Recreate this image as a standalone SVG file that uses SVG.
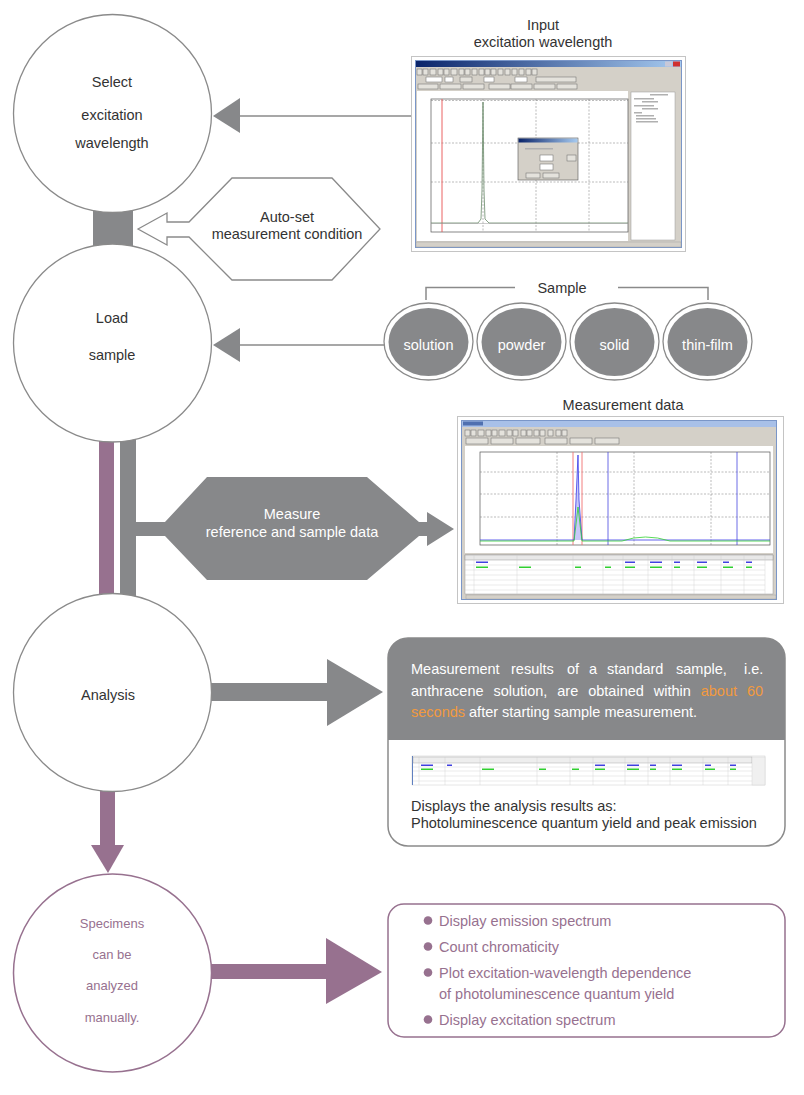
<svg xmlns="http://www.w3.org/2000/svg" width="804" height="1095" viewBox="0 0 804 1095">
<defs>
<style>
.t{font-family:"Liberation Sans",Arial,Helvetica,sans-serif;font-size:14.5px;fill:#333;text-anchor:middle}
.tl{font-family:"Liberation Sans",Arial,Helvetica,sans-serif;font-size:14.5px;fill:#333}
.w{fill:#fff}
.pu{fill:#97718f}
.or{fill:#f29a3e}
.nc{fill:#fff;stroke:#8a8a8a;stroke-width:1.3}
.pc{fill:#fff;stroke:#97718f;stroke-width:1.5}
.g{fill:#87888a}
.p{fill:#97718f}
.ln{stroke:#8a8a8a;stroke-width:1.5;fill:none}
.win{fill:#d4d0c8;stroke:#7a96c8;stroke-width:1}
.frame{fill:#fff;stroke:#c4c4c4;stroke-width:1}
.btn{fill:#e4e2dc;stroke:#666;stroke-width:0.5}
.grid{stroke:#777;stroke-width:0.5;stroke-dasharray:2 1.5;fill:none}
.fx{fill:#b0b0b0}
</style>
<linearGradient id="tb" x1="0" x2="1" y1="0" y2="0">
<stop offset="0" stop-color="#0a246a"/><stop offset="1" stop-color="#a6caf0"/>
</linearGradient>
</defs>
<rect width="804" height="1095" fill="#fff"/>

<g id="connectors">
<rect x="93" y="198" width="40" height="52" class="g"/>
<rect x="99" y="430" width="15" height="172" class="p"/>
<rect x="120" y="430" width="16" height="172" class="g"/>
<rect x="100" y="780" width="15" height="66" class="p"/>
<polygon points="91,845 124,845 108,873" class="p"/>
<line x1="238" y1="116" x2="411" y2="116" class="ln"/>
<polygon points="213,116 240,98 240,133" class="g"/>
<line x1="238" y1="345" x2="384" y2="345" class="ln"/>
<polygon points="213,345 240,328 240,362" class="g"/>
<polyline points="426,300 426,287.5 515,287.5" class="ln"/>
<polyline points="618,287.5 708,287.5 708,300" class="ln"/>
<rect x="205" y="683" width="123" height="18" class="g"/>
<polygon points="327,659 383,692 327,726" class="g"/>
<rect x="205" y="964" width="122" height="15" class="p"/>
<polygon points="326,938 382,972 326,1004" class="p"/>
</g>

<g id="n-select">
<circle cx="112.5" cy="113.5" r="99" class="nc"/>
<text class="t" x="112" y="87">Select</text>
<text class="t" x="112" y="120">excitation</text>
<text class="t" x="112" y="148">wavelength</text>
</g>

<g id="n-autoset">
<polygon points="138,229 167,213 167,222 189,222 232,178 332,178 380,229 332,280 232,280 189,237 167,237 167,245" fill="#fff" stroke="#8a8a8a" stroke-width="1.3"/>
<text class="t" x="287" y="222">Auto-set</text>
<text class="t" x="287" y="239">measurement condition</text>
</g>

<g id="n-input">
<text class="t" x="543" y="30">Input</text>
<text class="t" x="543" y="47">excitation wavelength</text>
<rect x="411.5" y="56.5" width="274" height="195" class="frame"/>
<rect x="415.5" y="60.5" width="266" height="187" class="win"/>
<rect x="416" y="61" width="265" height="6" fill="url(#tb)"/>
<rect x="673" y="61.5" width="7" height="5" fill="#d03030"/>
<rect x="665" y="61.5" width="7" height="5" fill="#c8c8d8"/>
<g class="btn">
<rect x="417" y="69" width="5" height="6"/><rect x="423" y="69" width="5" height="6"/><rect x="430" y="69" width="6" height="6"/><rect x="438" y="69" width="5" height="6"/><rect x="444" y="69" width="5" height="6"/><rect x="451" y="69" width="6" height="6"/><rect x="459" y="69" width="5" height="6"/><rect x="465" y="69" width="5" height="6"/><rect x="472" y="69" width="5" height="6"/><rect x="479" y="69" width="5" height="6"/><rect x="485" y="69" width="5" height="6"/><rect x="491" y="69" width="5" height="6"/><rect x="498" y="69" width="5" height="6"/><rect x="505" y="69" width="5" height="6"/><rect x="512" y="69" width="5" height="6"/><rect x="519" y="69" width="5" height="6"/><rect x="526" y="69" width="5" height="6"/><rect x="532" y="69" width="5" height="6"/>
<rect x="426" y="77" width="16" height="5" fill="#fff"/><rect x="445" y="77" width="8" height="5" fill="#fff"/><rect x="460" y="77" width="12" height="5"/><rect x="484" y="77" width="10" height="5" fill="#fff"/><rect x="515" y="77" width="12" height="5" fill="#fff"/><rect x="536" y="77" width="40" height="5"/>
<rect x="418" y="84" width="20" height="5"/><rect x="440" y="84" width="21" height="5"/><rect x="463" y="84" width="21" height="5"/><rect x="489" y="84" width="21" height="5"/><rect x="511" y="84" width="21" height="5"/><rect x="534" y="84" width="21" height="5"/><rect x="557" y="84" width="20" height="5"/>
</g>
<rect x="417" y="91" width="211" height="150" fill="#fff"/>
<rect x="431" y="99" width="197" height="133" fill="none" stroke="#555" stroke-width="0.7"/>
<path d="M431,100.5H628M431,143H628M431,182H628M483,99V232M536,99V232M589,99V232" class="grid"/>
<line x1="442" y1="99" x2="442" y2="232" stroke="#e85050" stroke-width="0.9"/>
<path d="M431,223H478L481,219L482,190L483,102L484,190L485,219L489,223H628" fill="none" stroke="#6a8a6a" stroke-width="0.8"/>
<line x1="431" y1="223.5" x2="628" y2="223.5" stroke="#999" stroke-width="0.5"/>
<rect x="631" y="92" width="44" height="148" fill="#fff" stroke="#999" stroke-width="0.5"/>
<g class="fx"><rect x="650" y="94" width="18" height="1.5"/><rect x="634" y="98" width="20" height="1.5"/><rect x="642" y="101" width="16" height="1.5"/><rect x="634" y="105" width="20" height="1.5"/><rect x="642" y="108" width="16" height="1.5"/><rect x="634" y="112" width="8" height="1.5"/><rect x="636" y="115" width="18" height="1.5"/><rect x="636" y="118" width="20" height="1.5"/><rect x="636" y="121" width="22" height="1.5"/></g>
<rect x="518" y="138" width="60" height="42" fill="#d4d0c8" stroke="#555" stroke-width="0.6"/>
<rect x="518.5" y="138.5" width="59" height="4" fill="url(#tb)"/>
<rect x="525" y="148" width="28" height="1.5" class="fx"/>
<rect x="540" y="155" width="13" height="6" fill="#fff" stroke="#666" stroke-width="0.5"/>
<rect x="567" y="155" width="9" height="6" class="btn"/>
<rect x="540" y="164" width="13" height="6" fill="#fff" stroke="#666" stroke-width="0.5"/>
<rect x="526" y="173" width="14" height="5" class="btn"/><rect x="543" y="173" width="16" height="5" class="btn"/>
<rect x="416" y="242" width="265" height="5" fill="#d4d0c8" stroke="#999" stroke-width="0.4"/>
</g>

<g id="n-load">
<circle cx="112.5" cy="343" r="99" class="nc"/>
<text class="t" x="112" y="323">Load</text>
<text class="t" x="112" y="360">sample</text>
</g>

<g id="n-sample">
<text class="t" x="562" y="293">Sample</text>
</g>
<g id="s-solution">
<ellipse cx="428.5" cy="341.5" rx="44.5" ry="38.5" class="nc"/>
<ellipse cx="428.5" cy="342" rx="40" ry="34" class="g"/>
<text class="t w" x="428.5" y="350">solution</text>
</g>
<g id="s-powder">
<ellipse cx="521.5" cy="341.5" rx="44.5" ry="38.5" class="nc"/>
<ellipse cx="521.5" cy="342" rx="40" ry="34" class="g"/>
<text class="t w" x="521.5" y="350">powder</text>
</g>
<g id="s-solid">
<ellipse cx="614.5" cy="341.5" rx="44.5" ry="38.5" class="nc"/>
<ellipse cx="614.5" cy="342" rx="40" ry="34" class="g"/>
<text class="t w" x="614.5" y="350">solid</text>
</g>
<g id="s-thinfilm">
<ellipse cx="707.5" cy="341.5" rx="44.5" ry="38.5" class="nc"/>
<ellipse cx="707.5" cy="342" rx="40" ry="34" class="g"/>
<text class="t w" x="707.5" y="350">thin-film</text>
</g>

<g id="n-measure">
<polygon points="135,522 165,522 207,477 367,477 419,522 427,522 427,512 454,529 427,546 427,536 419,536 367,580 207,580 165,536 135,536" class="g"/>
<text class="t w" x="292" y="519">Measure</text>
<text class="t w" x="292" y="537">reference and sample data</text>
</g>

<g id="n-data">
<text class="t" x="623" y="410">Measurement data</text>
<rect x="457.5" y="416.5" width="326" height="187" class="frame"/>
<rect x="461.5" y="420.5" width="315" height="179" class="win"/>
<rect x="462" y="421" width="314" height="6" fill="#a8c0e8"/>
<rect x="463" y="421.5" width="20" height="4" fill="#5070b0"/>
<g class="btn">
<rect x="465" y="430" width="5" height="6"/><rect x="471" y="430" width="5" height="6"/><rect x="478" y="430" width="6" height="6"/><rect x="486" y="430" width="5" height="6"/><rect x="492" y="430" width="5" height="6"/><rect x="499" y="430" width="6" height="6"/><rect x="507" y="430" width="5" height="6"/><rect x="513" y="430" width="5" height="6"/><rect x="521" y="430" width="5" height="6"/><rect x="527" y="430" width="5" height="6"/><rect x="534" y="430" width="5" height="6"/><rect x="540" y="430" width="5" height="6"/><rect x="548" y="430" width="5" height="6"/><rect x="556" y="430" width="5" height="6"/><rect x="562" y="430" width="5" height="6"/>
<rect x="466" y="438" width="22" height="6"/><rect x="491" y="438" width="22" height="6"/><rect x="516" y="438" width="24" height="6"/><rect x="545" y="438" width="22" height="6"/><rect x="570" y="438" width="22" height="6"/><rect x="595" y="438" width="24" height="6"/>
</g>
<rect x="465" y="446" width="308" height="107" fill="#fff"/>
<rect x="480" y="452" width="290" height="93" fill="none" stroke="#555" stroke-width="0.7"/>
<path d="M480,472H770M480,494H770M480,517H770M557,452V545M634,452V545M711,452V545" class="grid"/>
<line x1="573" y1="452" x2="573" y2="545" stroke="#f07070" stroke-width="0.9"/>
<line x1="582" y1="452" x2="582" y2="545" stroke="#f07070" stroke-width="0.9"/>
<line x1="608" y1="452" x2="608" y2="545" stroke="#4848e0" stroke-width="0.8"/>
<line x1="737" y1="452" x2="737" y2="545" stroke="#4848e0" stroke-width="0.8"/>
<path d="M480,540H574L576,500L578,455L579,500L582,540H770" fill="#c8c8f8" stroke="#3a3ae8" stroke-width="0.8"/>
<path d="M480,541H574L576.5,520L578,507L579.5,520L582,541H622Q645,533 670,541H770" fill="none" stroke="#30d030" stroke-width="0.8"/>
<rect x="465" y="555" width="308" height="39" fill="#fff" stroke="#888" stroke-width="0.4"/>
<rect x="465" y="555" width="308" height="5" fill="#e8e8e8" stroke="#888" stroke-width="0.4"/>
<path d="M474,555V594M517,555V594M573,555V594M603,555V594M623,555V594M648,555V594M672,555V594M694,555V594M721,555V594M744,555V594M765,555V594M465,565H765M465,570H765M465,575H765M465,580H765M465,585H765M465,590H765" stroke="#ccc" stroke-width="0.4" fill="none"/>
<g fill="#4040e0"><rect x="476" y="561.5" width="12" height="1.5"/><rect x="625" y="561.5" width="10" height="1.5"/><rect x="650" y="561.5" width="12" height="1.5"/><rect x="674" y="561.5" width="6" height="1.5"/><rect x="697" y="561.5" width="10" height="1.5"/><rect x="723" y="561.5" width="6" height="1.5"/><rect x="746" y="561.5" width="6" height="1.5"/></g>
<g fill="#30d030"><rect x="476" y="566.5" width="12" height="1.5"/><rect x="519" y="566.5" width="12" height="1.5"/><rect x="575" y="566.5" width="6" height="1.5"/><rect x="605" y="566.5" width="6" height="1.5"/><rect x="625" y="566.5" width="10" height="1.5"/><rect x="650" y="566.5" width="12" height="1.5"/><rect x="674" y="566.5" width="6" height="1.5"/><rect x="697" y="566.5" width="10" height="1.5"/><rect x="723" y="566.5" width="10" height="1.5"/><rect x="746" y="566.5" width="6" height="1.5"/></g>
<rect x="466" y="595" width="310" height="4" fill="#d4d0c8" stroke="#999" stroke-width="0.4"/>
</g>

<g id="n-analysis">
<circle cx="112.5" cy="692.5" r="99" class="nc"/>
<text class="t" x="108" y="700">Analysis</text>
</g>

<g id="n-results">
<rect x="388" y="638" width="397" height="208" rx="20" fill="#fff" stroke="#8a8a8a" stroke-width="1.5"/>
<path d="M388,740V658A20,20 0 0 1 408,638H765A20,20 0 0 1 785,658V740Z" class="g"/>
<g class="tl w">
<text y="674"><tspan x="411">Measurement</tspan><tspan x="511">results</tspan><tspan x="567">of</tspan><tspan x="589">a</tspan><tspan x="607">standard</tspan><tspan x="676">sample,</tspan><tspan x="744">i.e.</tspan></text>
<text y="696"><tspan x="411">anthracene</tspan><tspan x="493.4">solution,</tspan><tspan x="557.3">are</tspan><tspan x="588.2">obtained</tspan><tspan x="653.7">within</tspan><tspan x="700.7" class="or">about</tspan><tspan x="746.9" class="or">60</tspan></text>
<text x="411" y="717"><tspan class="or">seconds</tspan> after starting sample measurement.</text>
</g>
<rect x="412" y="756" width="353" height="29" fill="#fff" stroke="#ccc" stroke-width="0.5"/>
<line x1="412.5" y1="756" x2="412.5" y2="785" stroke="#6080c0" stroke-width="1"/>
<rect x="413" y="757" width="339" height="6" fill="#eee" stroke="#999" stroke-width="0.4"/>
<rect x="752" y="757" width="13" height="28" fill="#f0f0f0" stroke="#ccc" stroke-width="0.4"/>
<path d="M419,757V785M445,757V785M480,757V785M537,757V785M570,757V785M593,757V785M625,757V785M648,757V785M670,757V785M703,757V785M728,757V785M413,767H752M413,771H752M413,776H752M413,781H752" stroke="#ccc" stroke-width="0.4" fill="none"/>
<g fill="#4040e0"><rect x="421" y="764.5" width="12" height="1.5"/><rect x="447" y="764.5" width="5" height="1.5"/><rect x="595" y="764.5" width="10" height="1.5"/><rect x="627" y="764.5" width="12" height="1.5"/><rect x="650" y="764.5" width="6" height="1.5"/><rect x="672" y="764.5" width="10" height="1.5"/><rect x="705" y="764.5" width="6" height="1.5"/><rect x="730" y="764.5" width="6" height="1.5"/></g>
<g fill="#30d030"><rect x="421" y="768.5" width="12" height="1.5"/><rect x="482" y="768.5" width="12" height="1.5"/><rect x="539" y="768.5" width="7" height="1.5"/><rect x="572" y="768.5" width="7" height="1.5"/><rect x="595" y="768.5" width="10" height="1.5"/><rect x="627" y="768.5" width="12" height="1.5"/><rect x="650" y="768.5" width="6" height="1.5"/><rect x="672" y="768.5" width="10" height="1.5"/><rect x="705" y="768.5" width="10" height="1.5"/><rect x="730" y="768.5" width="6" height="1.5"/></g>
<text class="tl" x="411" y="811">Displays the analysis results as:</text>
<text class="tl" x="411" y="828">Photoluminescence quantum yield and peak emission</text>
</g>

<g id="n-specimens">
<circle cx="112.5" cy="973" r="99" class="pc"/>
<g class="t pu" style="font-size:13px">
<text x="112" y="928">Specimens</text>
<text x="112" y="959">can be</text>
<text x="112" y="990">analyzed</text>
<text x="112" y="1022">manually.</text>
</g>
</g>

<g id="n-manual">
<rect x="388" y="904" width="397" height="133" rx="16" class="pc"/>
<g class="p">
<circle cx="428" cy="920.5" r="4.3"/>
<circle cx="428" cy="946.5" r="4.3"/>
<circle cx="428" cy="972.5" r="4.3"/>
<circle cx="428" cy="1019.5" r="4.3"/>
</g>
<g class="tl pu">
<text x="439" y="926">Display emission spectrum</text>
<text x="439" y="952">Count chromaticity</text>
<text x="439" y="978">Plot excitation-wavelength dependence</text>
<text x="439" y="999">of photoluminescence quantum yield</text>
<text x="439" y="1025">Display excitation spectrum</text>
</g>
</g>
</svg>
